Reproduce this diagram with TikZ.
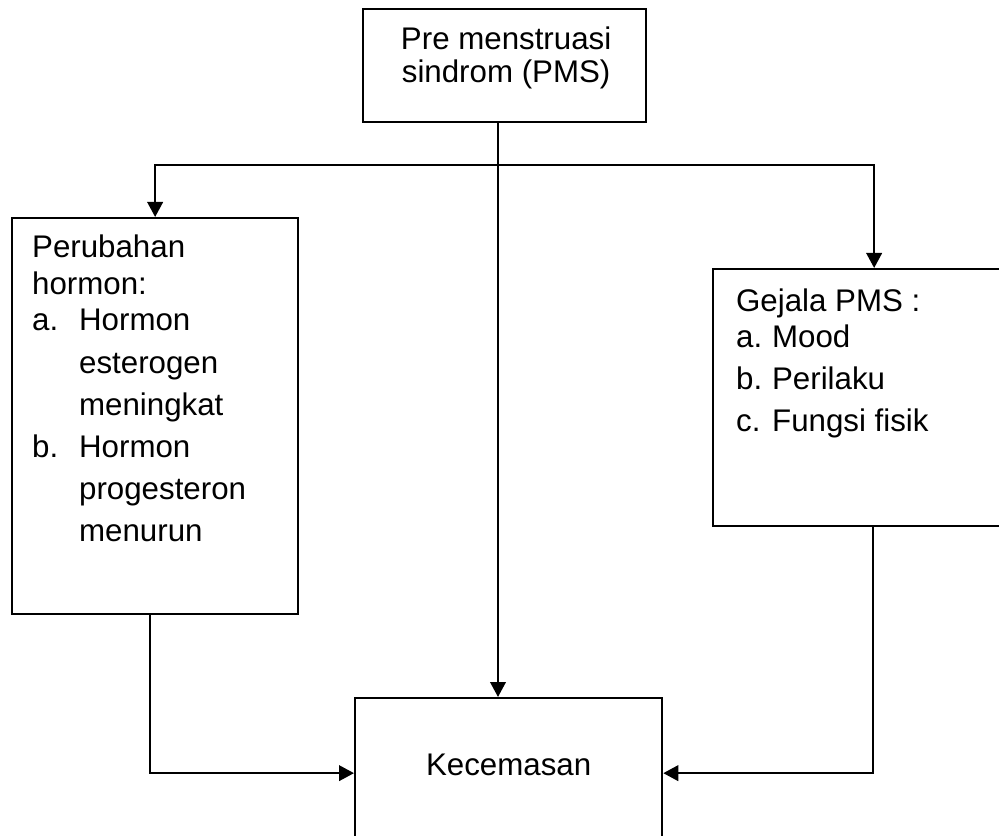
\documentclass[tikz,border=0pt]{standalone}
\usepackage{fontspec}
\setmainfont{Liberation Sans}
\usetikzlibrary{arrows.meta}
\tikzset{every picture/.style={line width=1.3pt}}

\begin{document}
\begin{tikzpicture}[
  kotak/.style={draw, rectangle, inner sep=0pt},
  teks/.style={inner sep=0pt, font=\fontsize{17.8pt}{20.8pt}\selectfont},
  panah/.style={-{Triangle[length=0.3cm,width=0.31cm]}}]
  \useasboundingbox (0,0) rectangle (19.98,-16.72);
  \clip (0,0) rectangle (19.98,-16.72);

  % Kotak
  \node[kotak, anchor=north west, minimum width=5.66cm, minimum height=2.26cm] (pms) at (7.24,-0.16) {};
  \node[kotak, anchor=north west, minimum width=5.72cm, minimum height=7.92cm] (hormon) at (0.22,-4.34) {};
  \node[kotak, anchor=north west, minimum width=6.44cm, minimum height=5.14cm] (gejala) at (14.24,-5.36) {};
  \node[kotak, teks, anchor=north west, minimum width=6.14cm, minimum height=3cm,
        text height=0.45cm, text depth=0.36cm] (kec) at (7.08,-13.94) {Kecemasan};

  % Teks
  \node[teks, anchor=north, align=center, font=\fontsize{17.8pt}{18.7pt}\selectfont]
    (pmstxt) at ([shift={(0.03,-0.36)}]pms.north) {Pre menstruasi\\sindrom (PMS)};
  \node[teks, anchor=north west] (hormontxt) at ([shift={(0.40,-0.28)}]hormon.north west) {%
    \begin{tabular}{@{}p{0.94cm}@{}l@{}}
      \multicolumn{2}{@{}l@{}}{Perubahan}\\
      \multicolumn{2}{@{}l@{}}{hormon:}\\
      a. & Hormon\\[3.2pt]
         & esterogen\\[3.2pt]
         & meningkat\\[3.2pt]
      b. & Hormon\\[3.2pt]
         & progesteron\\[3.2pt]
         & menurun
    \end{tabular}};
  \node[teks, anchor=north west] (gejalatxt) at ([shift={(0.46,-0.33)}]gejala.north west) {%
    \begin{tabular}{@{}p{0.72cm}@{}l@{}}
      \multicolumn{2}{@{}l@{}}{Gejala PMS :}\\
      a. & Mood\\[3.1pt]
      b. & Perilaku\\[3.1pt]
      c. & Fungsi fisik
    \end{tabular}};

  % Panah
  \coordinate (cabang) at (9.96,-3.30);
  \draw[panah] (pms.south -| cabang) -- (kec.north -| cabang);
  \draw[panah] (cabang) -| (hormon.north);
  \draw[panah] (cabang) -| (gejala.north);
  \draw[panah] ([xshift=-0.1cm]hormon.south) |- (kec.west);
  \draw[panah] ([xshift=-0.02cm]gejala.south) |- (kec.east);
\end{tikzpicture}
\end{document}
